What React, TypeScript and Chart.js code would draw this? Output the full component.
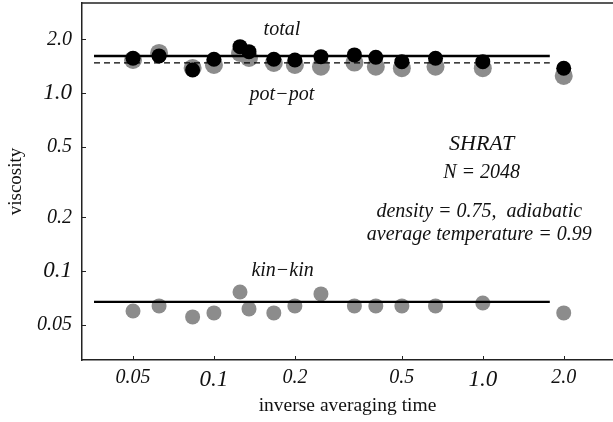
import React, { useEffect, useRef } from "react";
import { Chart, registerables } from "chart.js";

Chart.register(...registerables);

// ---- data ----
const inverseTimes = [0.05, 0.0625, 0.0833, 0.1, 0.125, 0.135, 0.167, 0.2, 0.25, 0.333, 0.4, 0.5, 0.667, 1.0, 2.0];
const totalViscosity = [1.566, 1.614, 1.346, 1.546, 1.82, 1.706, 1.546, 1.532, 1.599, 1.635, 1.587, 1.499, 1.566, 1.499, 1.377];
const potPotViscosity = [1.532, 1.678, 1.382, 1.436, 1.678, 1.573, 1.474, 1.436, 1.405, 1.48, 1.405, 1.377, 1.405, 1.377, 1.246];
const kinKinViscosity = [0.0596, 0.0636, 0.0552, 0.0581, 0.0762, 0.0612, 0.0581, 0.0636, 0.0743, 0.0636, 0.0636, 0.0636, 0.0636, 0.0661, 0.0581];
const fitRange = [0.0358, 1.775];
const totalFit = 1.614;
const potPotFit = 1.474;
const kinKinFit = 0.067;
const xTickValues = [0.05, 0.1, 0.2, 0.5, 1.0, 2.0];
const xTickLabels = ["0.05", "0.1", "0.2", "0.5", "1.0", "2.0"];
const yTickValues = [0.05, 0.1, 0.2, 0.5, 1.0, 2.0];
const yTickLabels = ["0.05", "0.1", "0.2", "0.5", "1.0", "2.0"];
const largeTickLabels = ["0.1", "1.0"];

const annotations = [
  { text: "total", x: 0.179, y: 2.26, size: 20 },
  { text: "pot\u2212pot", x: 0.179, y: 0.974, size: 20 },
  { text: "kin\u2212kin", x: 0.18, y: 0.1, size: 20 },
  { text: "SHRAT", x: 0.99, y: 0.517, size: 22 },
  { text: "N = 2048", x: 0.99, y: 0.355, size: 20 },
  { text: "density = 0.75,  adiabatic", x: 0.97, y: 0.214, size: 20 },
  { text: "average temperature = 0.99", x: 0.97, y: 0.159, size: 20 },
];

const SERIF = "'Liberation Serif', 'Times New Roman', serif";
const GRAY = "#8c8c8c";

const pairs = (ys: number[]) => inverseTimes.map((x, i) => ({ x, y: ys[i] }));
const fitLine = (v: number) => fitRange.map((x) => ({ x, y: v }));

const framePlugin = {
  id: "frame",
  afterDraw(chart: any) {
    const { ctx, chartArea } = chart;
    const xs = chart.scales.x;
    const ys = chart.scales.y;
    ctx.save();
    ctx.strokeStyle = "#222";
    ctx.lineWidth = 1.5;
    ctx.beginPath();
    ctx.moveTo(chartArea.left, chartArea.top);
    ctx.lineTo(chartArea.right, chartArea.top);
    ctx.stroke();
    ctx.lineWidth = 1;
    ctx.beginPath();
    xTickValues.forEach((v) => {
      const px = Math.round(xs.getPixelForValue(v)) + 0.5;
      ctx.moveTo(px, chartArea.bottom);
      ctx.lineTo(px, chartArea.bottom - 4);
    });
    yTickValues.forEach((v) => {
      const py = Math.round(ys.getPixelForValue(v)) + 0.5;
      ctx.moveTo(chartArea.left, py);
      ctx.lineTo(chartArea.left + 4, py);
    });
    ctx.stroke();
    ctx.fillStyle = "#111";
    ctx.textAlign = "center";
    ctx.textBaseline = "middle";
    annotations.forEach((a) => {
      ctx.font = `italic ${a.size}px ${SERIF}`;
      ctx.fillText(a.text, xs.getPixelForValue(a.x), ys.getPixelForValue(a.y));
    });
    ctx.restore();
  },
};

export default function App() {
  const ref = useRef<HTMLCanvasElement | null>(null);
  useEffect(() => {
    if (!ref.current) return;
    const chart = new Chart(ref.current, {
      type: "scatter",
      data: {
        datasets: [
          {
            label: "pot-pot",
            data: pairs(potPotViscosity),
            backgroundColor: GRAY,
            borderWidth: 0,
            pointRadius: 9,
            order: 4,
          },
          {
            label: "kin-kin",
            data: pairs(kinKinViscosity),
            backgroundColor: GRAY,
            borderWidth: 0,
            pointRadius: 7.5,
            order: 4,
          },
          {
            label: "total fit",
            data: fitLine(totalFit),
            showLine: true,
            borderColor: "#000",
            borderWidth: 2.5,
            pointRadius: 0,
            order: 2,
          },
          {
            label: "pot-pot fit",
            data: fitLine(potPotFit),
            showLine: true,
            borderColor: "#000",
            borderWidth: 1.3,
            borderDash: [6, 4],
            pointRadius: 0,
            order: 2,
          },
          {
            label: "kin-kin fit",
            data: fitLine(kinKinFit),
            showLine: true,
            borderColor: "#000",
            borderWidth: 2.2,
            pointRadius: 0,
            order: 2,
          },
          {
            label: "total",
            data: pairs(totalViscosity),
            backgroundColor: "#000",
            borderWidth: 0,
            pointRadius: 7.5,
            order: 1,
          },
        ],
      },
      options: {
        responsive: false,
        animation: false,
        layout: { autoPadding: false, padding: { left: 0, top: 3, right: 0, bottom: 0 } },
        plugins: { legend: { display: false }, tooltip: { enabled: false } },
        scales: {
          x: {
            type: "logarithmic",
            min: 0.0323,
            max: 3.05,
            afterFit: (s: any) => {
              s.height = 62;
              s.paddingLeft = 0;
              s.paddingRight = 0;
            },
            afterBuildTicks: (s: any) => {
              s.ticks = xTickValues.map((value) => ({ value }));
            },
            grid: { display: false, drawTicks: false },
            border: { display: true, color: "#222", width: 1.5 },
            ticks: {
              padding: 6,
              color: "#111",
              autoSkip: false,
              maxRotation: 0,
              callback: (_v: any, i: number) => xTickLabels[i],
              font: (c: any) => ({
                family: SERIF,
                style: "italic",
                size: largeTickLabels.includes(xTickLabels[xTickValues.indexOf(c.tick?.value)]) ? 23 : 20,
              }),
            },
            title: {
              display: true,
              text: "inverse averaging time",
              color: "#111",
              font: { family: SERIF, size: 19.5 },
              padding: { top: 0, bottom: 4 },
            },
          },
          y: {
            type: "logarithmic",
            min: 0.0316,
            max: 3.2,
            afterFit: (s: any) => {
              s.width = 82;
              s.paddingTop = 0;
              s.paddingBottom = 0;
            },
            afterBuildTicks: (s: any) => {
              s.ticks = yTickValues.map((value) => ({ value }));
            },
            grid: { display: false, drawTicks: false },
            border: { display: true, color: "#222", width: 1.5 },
            ticks: {
              padding: 10,
              color: "#111",
              autoSkip: false,
              callback: (_v: any, i: number) => yTickLabels[i],
              font: (c: any) => ({
                family: SERIF,
                style: "italic",
                size: largeTickLabels.includes(yTickLabels[yTickValues.indexOf(c.tick?.value)]) ? 23 : 20,
              }),
            },
            title: {
              display: true,
              text: "viscosity",
              color: "#111",
              font: { family: SERIF, size: 19 },
              padding: { top: 5, bottom: 0 },
            },
          },
        },
      },
      plugins: [framePlugin],
    });
    return () => chart.destroy();
  }, []);
  return (
    <div style={{ position: "fixed", left: 0, top: 0, width: 613, height: 422, background: "#fff" }}>
      <canvas ref={ref} width={613} height={422} />
    </div>
  );
}
